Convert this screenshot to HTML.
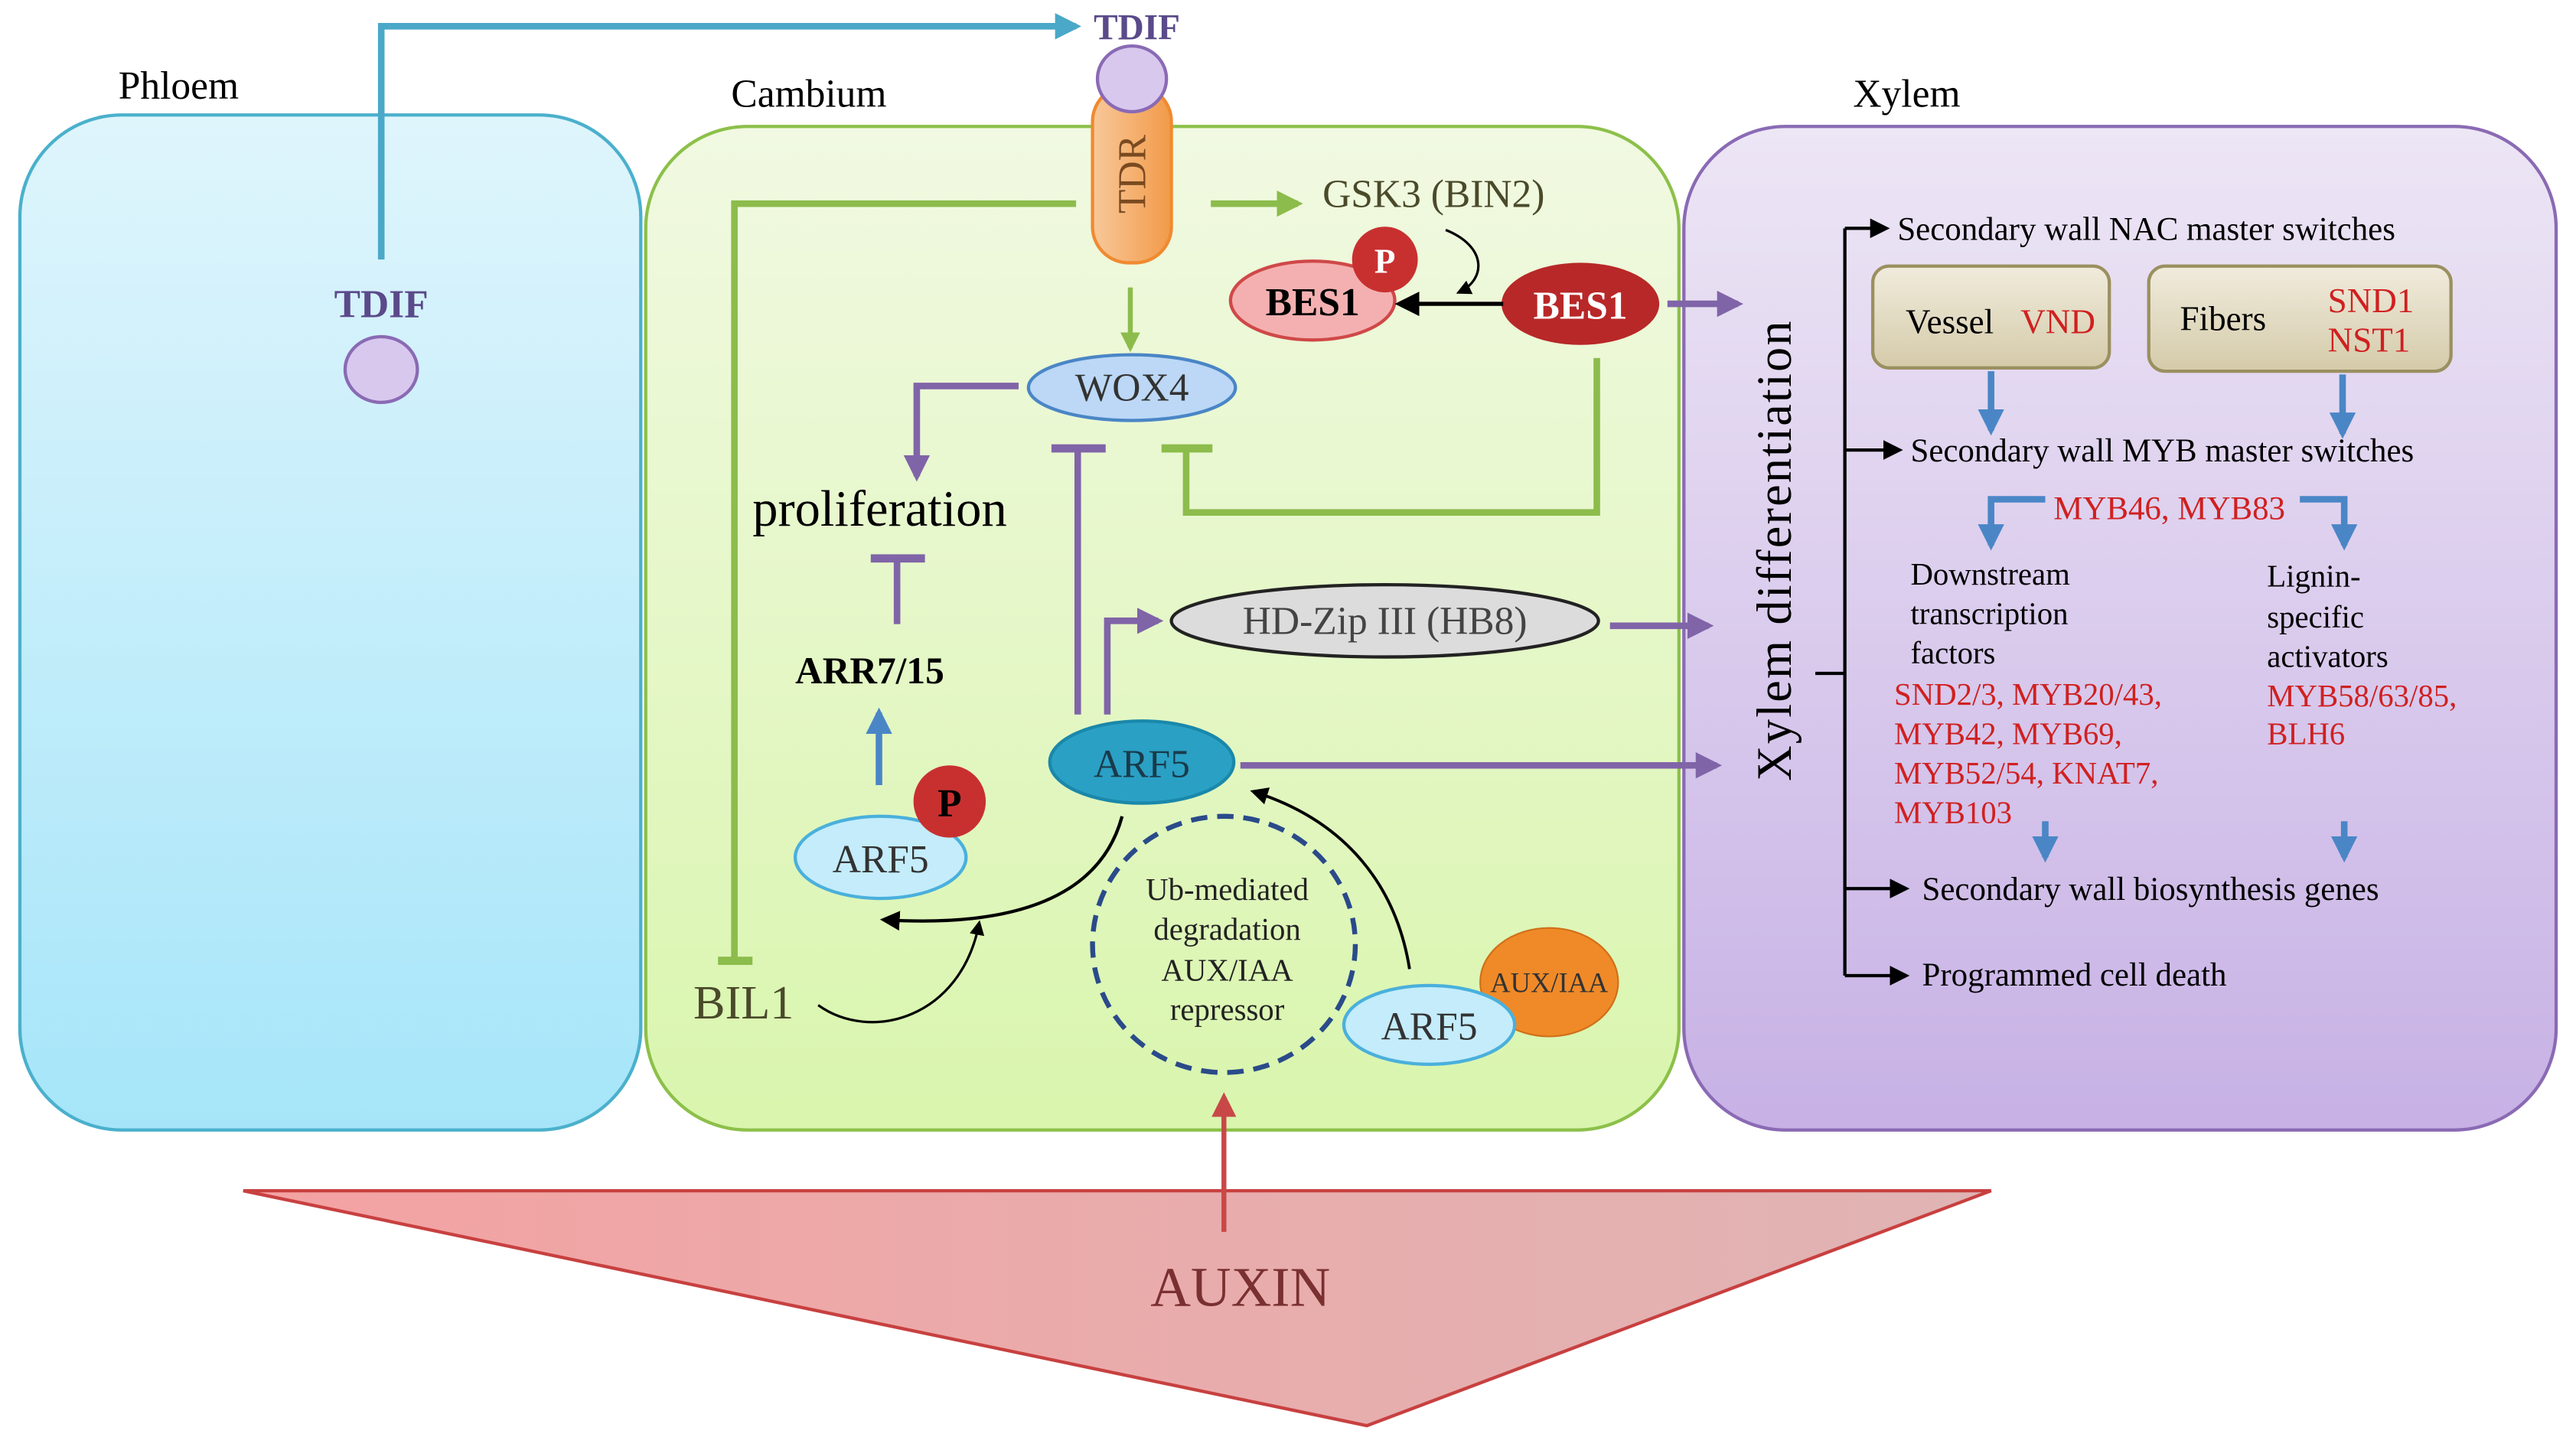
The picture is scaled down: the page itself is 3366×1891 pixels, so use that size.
<!DOCTYPE html>
<html><head><meta charset="utf-8"><style>html,body{margin:0;padding:0;background:#fff}svg{display:block}text{font-family:"Liberation Serif",serif}</style></head><body>
<svg width="3366" height="1891" viewBox="0 0 1568 881" xmlns="http://www.w3.org/2000/svg">
<defs>
<linearGradient id="gb" x1="0" y1="0" x2="0" y2="1"><stop offset="0" stop-color="#dff5fc"/><stop offset="1" stop-color="#a6e5f9"/></linearGradient>
<linearGradient id="gg" x1="0" y1="0" x2="0" y2="1"><stop offset="0" stop-color="#f1f9e2"/><stop offset="1" stop-color="#d9f5ad"/></linearGradient>
<linearGradient id="gp" x1="0" y1="0" x2="0" y2="1"><stop offset="0" stop-color="#ede6f5"/><stop offset="1" stop-color="#c7b1e5"/></linearGradient>
<linearGradient id="gt" x1="0" y1="0" x2="1" y2="0"><stop offset="0" stop-color="#f4a2a2"/><stop offset="1" stop-color="#e0b4b4"/></linearGradient>
<linearGradient id="gbox" x1="0" y1="0" x2="0" y2="1"><stop offset="0" stop-color="#f0ebdc"/><stop offset="1" stop-color="#d5cbaa"/></linearGradient>
<linearGradient id="gor" x1="0" y1="0" x2="1" y2="0"><stop offset="0" stop-color="#f8c89a"/><stop offset="1" stop-color="#f29a48"/></linearGradient>
<marker id="ab" viewBox="0 0 10 10" refX="8" refY="5" markerWidth="4" markerHeight="4" orient="auto"><path d="M0,0L10,5L0,10z" fill="#4aa8c8"/></marker>
<marker id="ag" viewBox="0 0 10 10" refX="8" refY="5" markerWidth="4" markerHeight="4" orient="auto"><path d="M0,0L10,5L0,10z" fill="#8cbc4c"/></marker>
<marker id="ap" viewBox="0 0 10 10" refX="8" refY="5" markerWidth="4" markerHeight="4" orient="auto"><path d="M0,0L10,5L0,10z" fill="#8064a8"/></marker>
<marker id="abl" viewBox="0 0 10 10" refX="8" refY="5" markerWidth="4" markerHeight="4" orient="auto"><path d="M0,0L10,5L0,10z" fill="#4a86c6"/></marker>
<marker id="ak" viewBox="0 0 10 10" refX="8" refY="5" markerWidth="6" markerHeight="6" orient="auto"><path d="M0,0L10,5L0,10z" fill="#000"/></marker>
<marker id="ar" viewBox="0 0 10 10" refX="8" refY="5" markerWidth="5" markerHeight="5" orient="auto"><path d="M0,0L10,5L0,10z" fill="#c84848"/></marker>
</defs>
<rect x="12" y="70" width="378" height="618" rx="62" fill="url(#gb)" stroke="#4ab0cc" stroke-width="2"/>
<rect x="393" y="77" width="629" height="611" rx="62" fill="url(#gg)" stroke="#8cc04a" stroke-width="2"/>
<rect x="1025" y="77" width="531" height="611" rx="62" fill="url(#gp)" stroke="#8a6ab4" stroke-width="2"/>
<text x="72" y="60" font-size="24">Phloem</text>
<text x="445" y="65" font-size="24">Cambium</text>
<text x="1128" y="65" font-size="24">Xylem</text>
<!-- triangle -->
<polygon points="148,725 1212,725 832,868" fill="url(#gt)" stroke="#c84040" stroke-width="2"/>
<text x="755" y="795" font-size="34" fill="#7a3030" text-anchor="middle">AUXIN</text>
<line x1="745" y1="750" x2="745" y2="668" stroke="#c84848" stroke-width="3" marker-end="url(#ar)"/>
<!-- blue TDIF route -->
<polyline points="232,158 232,16 655,16" fill="none" stroke="#4aa8c8" stroke-width="4" marker-end="url(#ab)"/>
<text x="232" y="193" font-size="24" fill="#5a4a8a" text-anchor="middle" font-weight="bold">TDIF</text>
<ellipse cx="232" cy="225" rx="22" ry="20" fill="#d8c8ee" stroke="#8a6ab4" stroke-width="2"/>
<text x="692" y="24" font-size="22" fill="#5a4a8a" text-anchor="middle" font-weight="bold">TDIF</text>
<!-- TDR -->
<rect x="665" y="52" width="48" height="108" rx="22" fill="url(#gor)" stroke="#f08a30" stroke-width="2"/>
<text transform="translate(697,106) rotate(-90)" font-size="24" fill="#7a4a20" text-anchor="middle">TDR</text>
<ellipse cx="689" cy="48" rx="21" ry="20" fill="#d8c8ee" stroke="#8a6ab4" stroke-width="2"/>
<!-- green lines -->
<polyline points="655,124 447,124 447,585" fill="none" stroke="#8cbc4c" stroke-width="4"/>
<line x1="437" y1="585" x2="458" y2="585" stroke="#8cbc4c" stroke-width="5"/>
<line x1="737" y1="124" x2="790" y2="124" stroke="#8cbc4c" stroke-width="4" marker-end="url(#ag)"/>
<text x="805" y="126" font-size="24" fill="#4a4a2a">GSK3 (BIN2)</text>
<line x1="688" y1="175" x2="688" y2="212" stroke="#8cbc4c" stroke-width="3" marker-end="url(#ag)"/>
<polyline points="972,218 972,312 722,312 722,273" fill="none" stroke="#8cbc4c" stroke-width="4"/>
<line x1="707" y1="273" x2="738" y2="273" stroke="#8cbc4c" stroke-width="5"/>
<!-- WOX4 -->
<ellipse cx="689" cy="236" rx="63" ry="20" fill="#bcd8f6" stroke="#4a86c6" stroke-width="2"/>
<text x="689" y="244" font-size="24" fill="#333" text-anchor="middle">WOX4</text>
<polyline points="620,235 558,235 558,290" fill="none" stroke="#8064a8" stroke-width="4" marker-end="url(#ap)"/>
<text x="458" y="320" font-size="31">proliferation</text>
<line x1="546" y1="380" x2="546" y2="340" stroke="#8064a8" stroke-width="4"/>
<line x1="530" y1="340" x2="563" y2="340" stroke="#8064a8" stroke-width="5"/>
<text x="484" y="416" font-size="23" font-weight="bold">ARR7/15</text>
<line x1="535" y1="478" x2="535" y2="434" stroke="#4a86c6" stroke-width="4" marker-end="url(#abl)"/>
<line x1="656" y1="435" x2="656" y2="273" stroke="#8064a8" stroke-width="4"/>
<line x1="640" y1="273" x2="673" y2="273" stroke="#8064a8" stroke-width="5"/>
<polyline points="674,435 674,378 705,378" fill="none" stroke="#8064a8" stroke-width="4" marker-end="url(#ap)"/>
<ellipse cx="843" cy="378" rx="130" ry="22" fill="#dcdcdc" stroke="#222" stroke-width="2"/>
<text x="843" y="386" font-size="24" fill="#444" text-anchor="middle">HD-Zip III (HB8)</text>
<line x1="980" y1="381" x2="1040" y2="381" stroke="#8064a8" stroke-width="4" marker-end="url(#ap)"/>
<!-- ARF5 with P -->
<ellipse cx="536" cy="522" rx="52" ry="25" fill="#c4ecfb" stroke="#4ab0dc" stroke-width="2"/>
<text x="536" y="531" font-size="24" fill="#333" text-anchor="middle">ARF5</text>
<circle cx="578" cy="488" r="22" fill="#c83030"/>
<text x="578" y="497" font-size="24" font-weight="bold" text-anchor="middle">P</text>
<!-- ARF5 main -->
<ellipse cx="695" cy="464" rx="56" ry="25" fill="#2aa0c4" stroke="#1a88aa" stroke-width="2"/>
<text x="695" y="473" font-size="24" fill="#1a3a4a" text-anchor="middle">ARF5</text>
<line x1="755" y1="466" x2="1045" y2="466" stroke="#8064a8" stroke-width="4" marker-end="url(#ap)"/>
<!-- BES1 -->
<ellipse cx="799" cy="183" rx="50" ry="24" fill="#f4b0b0" stroke="#d04848" stroke-width="2"/>
<text x="799" y="192" font-size="24" font-weight="bold" text-anchor="middle">BES1</text>
<circle cx="843" cy="158" r="20" fill="#c83030"/>
<text x="843" y="166" font-size="21" font-weight="bold" fill="#fff" text-anchor="middle">P</text>
<ellipse cx="962" cy="185" rx="48" ry="25" fill="#b82828"/>
<text x="962" y="194" font-size="24" font-weight="bold" fill="#fff" text-anchor="middle">BES1</text>
<line x1="915" y1="185" x2="852" y2="185" stroke="#000" stroke-width="2.5" marker-end="url(#ak)"/>
<path d="M880,140 C905,150 905,170 888,178" fill="none" stroke="#000" stroke-width="1.5" marker-end="url(#ak)"/>
<line x1="1015" y1="185" x2="1058" y2="185" stroke="#8064a8" stroke-width="4" marker-end="url(#ap)"/>
<!-- curves -->
<path d="M683,497 C670,545 620,565 538,560" fill="none" stroke="#000" stroke-width="2" marker-end="url(#ak)"/>
<text x="422" y="620" font-size="29" fill="#4a4a2a">BIL1</text>
<path d="M498,612 C530,635 585,620 596,562" fill="none" stroke="#000" stroke-width="1.5" marker-end="url(#ak)"/>
<ellipse cx="745" cy="575" rx="80" ry="78" fill="none" stroke="#2a4a8a" stroke-width="3" stroke-dasharray="10,6"/>
<g font-size="19" text-anchor="middle" fill="#222"><text x="747" y="548">Ub-mediated</text><text x="747" y="572">degradation</text><text x="747" y="597">AUX/IAA</text><text x="747" y="621">repressor</text></g>
<path d="M858,590 C850,540 820,500 763,482" fill="none" stroke="#000" stroke-width="1.8" marker-end="url(#ak)"/>
<ellipse cx="943" cy="598" rx="42" ry="33" fill="#f08a28" stroke="#d07018" stroke-width="1"/>
<text x="943" y="604" font-size="17" text-anchor="middle" fill="#333">AUX/IAA</text>
<ellipse cx="870" cy="624" rx="52" ry="24" fill="#c4ecfb" stroke="#4ab0dc" stroke-width="2"/>
<text x="870" y="633" font-size="24" fill="#333" text-anchor="middle">ARF5</text>
<!-- xylem -->
<text transform="translate(1090,335) rotate(-90)" font-size="30" text-anchor="middle" letter-spacing="1">Xylem differentiation</text>
<line x1="1123" y1="139" x2="1123" y2="594" stroke="#000" stroke-width="2"/>
<line x1="1105" y1="410" x2="1123" y2="410" stroke="#000" stroke-width="2"/>
<g stroke="#000" stroke-width="2" marker-end="url(#ak)"><line x1="1123" y1="139" x2="1148" y2="139"/><line x1="1123" y1="274" x2="1156" y2="274"/><line x1="1123" y1="541" x2="1160" y2="541"/><line x1="1123" y1="594" x2="1160" y2="594"/></g>
<g font-size="20"><text x="1155" y="146">Secondary wall NAC master switches</text><text x="1163" y="281">Secondary wall MYB master switches</text><text x="1170" y="548">Secondary wall biosynthesis genes</text><text x="1170" y="600">Programmed cell death</text></g>
<rect x="1140" y="162" width="144" height="62" rx="10" fill="url(#gbox)" stroke="#9a9060" stroke-width="2"/>
<rect x="1308" y="162" width="184" height="64" rx="10" fill="url(#gbox)" stroke="#9a9060" stroke-width="2"/>
<text x="1160" y="203" font-size="21">Vessel</text><text x="1230" y="203" font-size="21" fill="#d02020">VND</text>
<text x="1327" y="201" font-size="21">Fibers</text><text x="1417" y="190" font-size="21" fill="#d02020">SND1</text><text x="1417" y="214" font-size="21" fill="#d02020">NST1</text>
<g stroke="#4a86c6" stroke-width="4" fill="none" marker-end="url(#abl)"><line x1="1212" y1="226" x2="1212" y2="262"/><line x1="1426" y1="228" x2="1426" y2="264"/><polyline points="1245,304 1212,304 1212,332"/><polyline points="1400,304 1427,304 1427,332"/><line x1="1245" y1="500" x2="1245" y2="522"/><line x1="1427" y1="500" x2="1427" y2="522"/></g>
<text x="1250" y="316" font-size="20" fill="#d02020">MYB46, MYB83</text>
<g font-size="19"><text x="1163" y="356">Downstream</text><text x="1163" y="380">transcription</text><text x="1163" y="404">factors</text><text x="1380" y="357">Lignin-</text><text x="1380" y="382">specific</text><text x="1380" y="406">activators</text></g>
<g font-size="19" fill="#d02020"><text x="1153" y="429">SND2/3, MYB20/43,</text><text x="1153" y="453">MYB42, MYB69,</text><text x="1153" y="477">MYB52/54, KNAT7,</text><text x="1153" y="501">MYB103</text><text x="1380" y="430">MYB58/63/85,</text><text x="1380" y="453">BLH6</text></g>
</svg>
</body></html>
